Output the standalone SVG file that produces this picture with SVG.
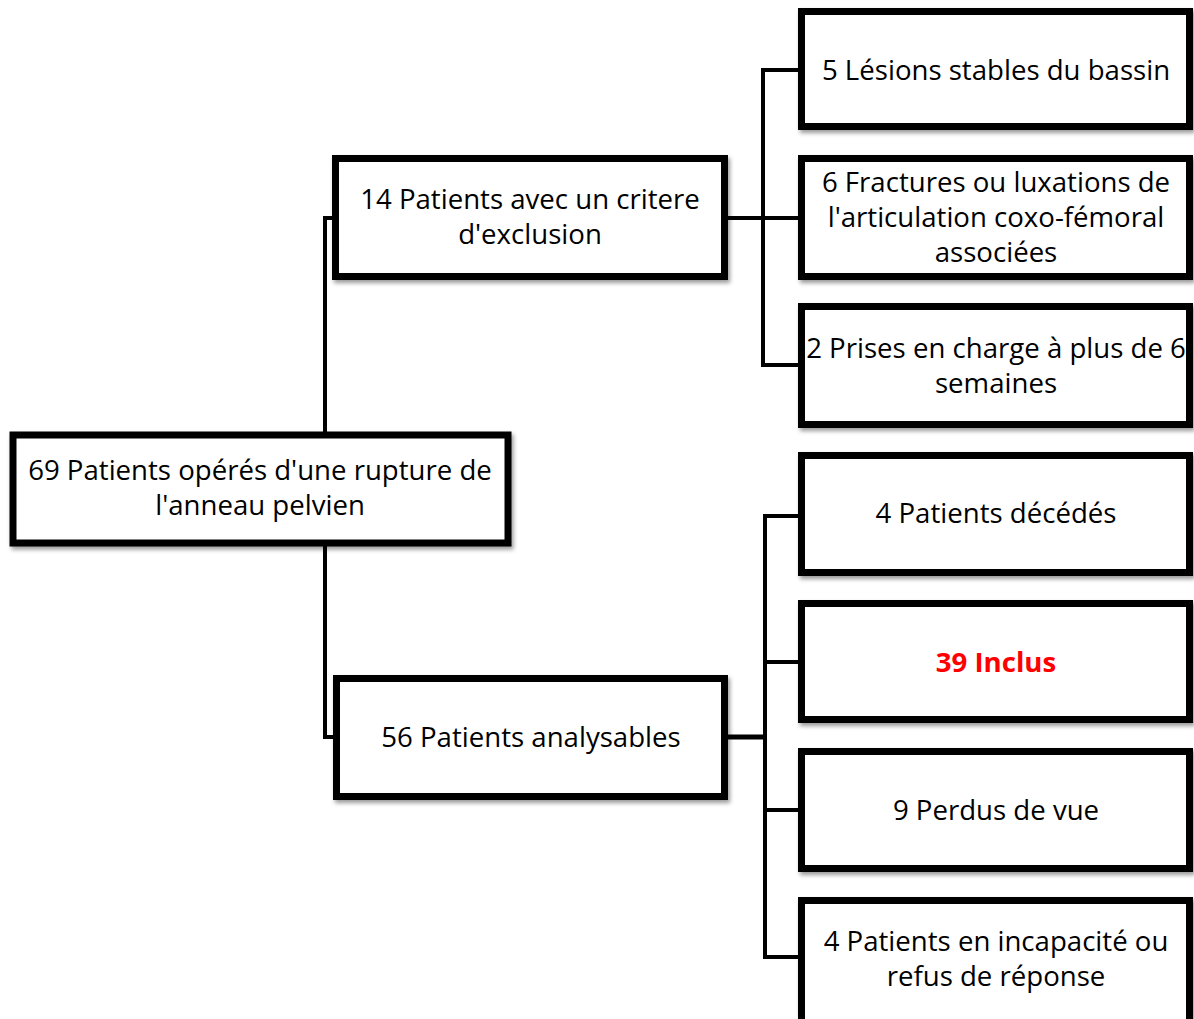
<svg xmlns="http://www.w3.org/2000/svg" width="1194" height="1019" viewBox="0 0 1194 1019">
<defs>
<filter id="sh" x="-5%" y="-5%" width="115%" height="120%">
<feDropShadow dx="2" dy="3" stdDeviation="2" flood-color="#000" flood-opacity="0.4"/>
</filter>
<style>
.box{fill:#fff;stroke:#000;stroke-width:7;filter:url(#sh)}
.t{font-family:"Open Sans","Liberation Sans",sans-serif;font-size:27.6px;fill:#000;text-anchor:middle}
.red{fill:#ff0000;font-weight:bold}
.c{fill:none;stroke:#000;stroke-width:4}
</style>
</defs>
<rect width="1194" height="1019" fill="#fff"/>
<g id="connectors">
<path class="c" d="M336 218 H325 V737 H336"/>
<path class="c" d="M728 218 H800"/>
<path class="c" d="M800 70 H763 V365 H800"/>
<path class="c" d="M728 737 H765" style="stroke-width:5"/>
<path class="c" d="M800 516 H765 V957 H800"/>
<path class="c" d="M765 662 H800"/>
<path class="c" d="M765 810 H800"/>
</g>
<g id="n-root"><rect class="box" x="13" y="435" width="495" height="108"/>
<text class="t" x="260" y="480">69 Patients opérés d'une rupture de</text>
<text class="t" x="260" y="515">l'anneau pelvien</text></g>
<g id="n-excl"><rect class="box" x="335.5" y="158.5" width="389" height="118"/>
<text class="t" x="530" y="209">14 Patients avec un critere</text>
<text class="t" x="530" y="244">d'exclusion</text></g>
<g id="n-anal"><rect class="box" x="336.5" y="678.5" width="388" height="118"/>
<text class="t" x="531" y="747">56 Patients analysables</text></g>
<g id="n-lesions"><rect class="box" x="801.5" y="11.5" width="388" height="115"/>
<text class="t" x="996" y="80">5 Lésions stables du bassin</text></g>
<g id="n-fract"><rect class="box" x="801.5" y="158.5" width="388" height="118"/>
<text class="t" x="996" y="192">6 Fractures ou luxations de</text>
<text class="t" x="996" y="227">l'articulation coxo-fémoral</text>
<text class="t" x="996" y="262">associées</text></g>
<g id="n-prises"><rect class="box" x="801.5" y="306.5" width="388" height="118"/>
<text class="t" x="996" y="358">2 Prises en charge à plus de 6</text>
<text class="t" x="996" y="393">semaines</text></g>
<g id="n-deces"><rect class="box" x="801.5" y="455.5" width="388" height="117"/>
<text class="t" x="996" y="523">4 Patients décédés</text></g>
<g id="n-inclus"><rect class="box" x="801.5" y="603.5" width="388" height="116"/>
<text class="t red" x="996" y="672">39 Inclus</text></g>
<g id="n-perdus"><rect class="box" x="801.5" y="751.5" width="388" height="117"/>
<text class="t" x="996" y="820">9 Perdus de vue</text></g>
<g id="n-refus"><rect class="box" x="801.5" y="900.5" width="388" height="125"/>
<text class="t" x="996" y="951">4 Patients en incapacité ou</text>
<text class="t" x="996" y="986">refus de réponse</text></g>
</svg>
